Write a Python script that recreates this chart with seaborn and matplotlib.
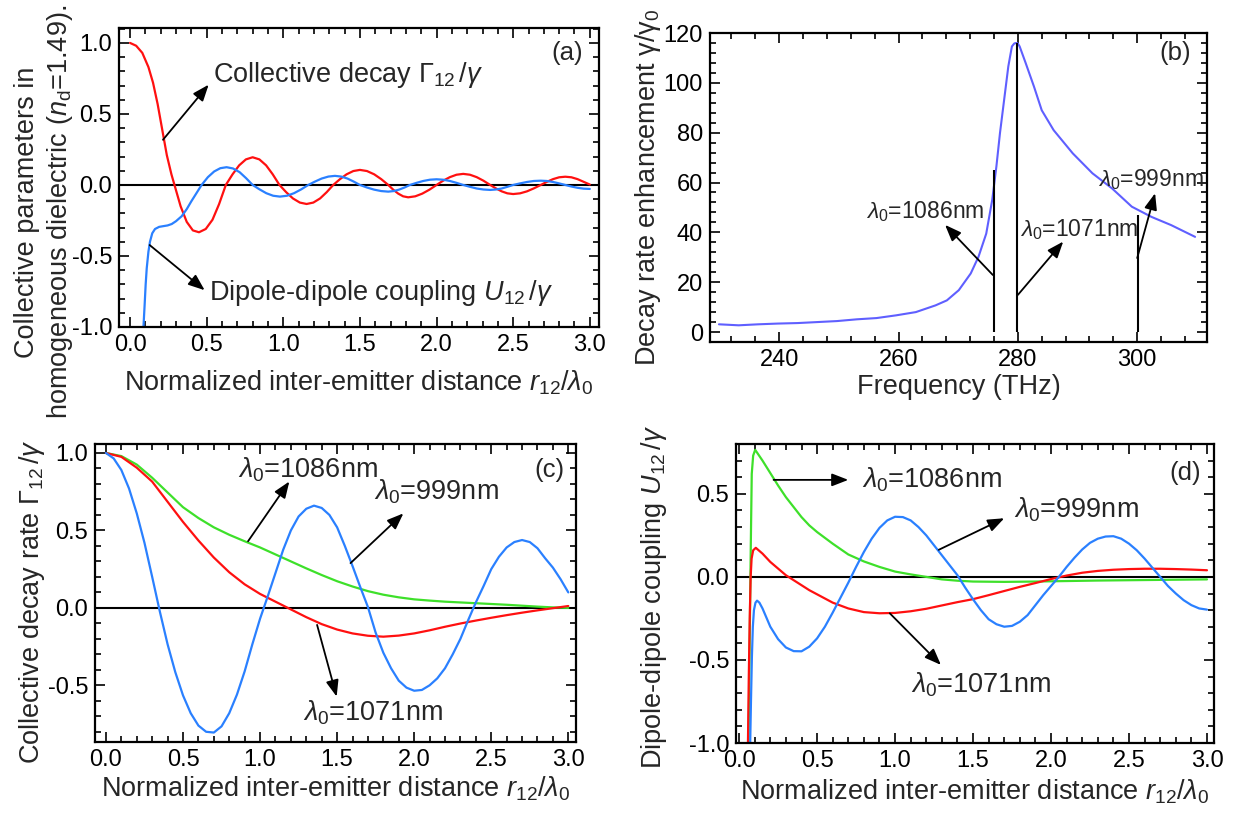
import matplotlib
matplotlib.use("Agg")
import matplotlib.pyplot as plt
from matplotlib.ticker import MultipleLocator, AutoMinorLocator, FormatStrFormatter
import seaborn as sns

sns.set_style("ticks")
plt.rcParams["font.family"] = ["Liberation Sans", "DejaVu Sans"]
plt.rcParams["mathtext.fontset"] = "custom"
plt.rcParams["mathtext.rm"] = "Liberation Sans"
plt.rcParams["mathtext.it"] = "Liberation Sans:italic"
plt.rcParams["mathtext.bf"] = "Liberation Sans:bold"
plt.rcParams["axes.unicode_minus"] = False

# ---- panel (a): homogeneous dielectric ----
a_x_gamma = [0.00, 0.04, 0.08, 0.12, 0.15, 0.18, 0.21, 0.24, 0.27, 0.29,
             0.33, 0.37, 0.41, 0.45, 0.494, 0.538, 0.581, 0.625, 0.669, 0.712,
             0.756, 0.80, 0.844, 0.888, 0.931, 0.975, 1.019, 1.063, 1.108, 1.152,
             1.196, 1.24, 1.283, 1.326, 1.37, 1.413, 1.457, 1.50, 1.546, 1.593,
             1.639, 1.685, 1.717, 1.75, 1.782, 1.815, 1.861, 1.907, 1.954, 2.00,
             2.043, 2.087, 2.13, 2.174, 2.218, 2.262, 2.306, 2.35, 2.387, 2.425,
             2.462, 2.50, 2.545, 2.59, 2.635, 2.68, 2.72, 2.76, 2.80, 2.84,
             2.88, 2.92, 2.96, 3.00]
a_gamma = [1.00, 0.98, 0.93, 0.83, 0.72, 0.57, 0.39, 0.21, 0.075, 0.0,
           -0.15, -0.26, -0.32, -0.333, -0.31, -0.245, -0.135, 0.0, 0.075, 0.138,
           0.180, 0.195, 0.180, 0.138, 0.075, 0.0, -0.051, -0.095, -0.124, -0.134,
           -0.124, -0.095, -0.051, 0.0, 0.041, 0.075, 0.098, 0.106, 0.098, 0.075,
           0.041, 0.0, -0.033, -0.061, -0.080, -0.087, -0.080, -0.061, -0.033, 0.0,
           0.030, 0.055, 0.072, 0.078, 0.072, 0.055, 0.030, 0.0, -0.024, -0.045,
           -0.059, -0.064, -0.059, -0.045, -0.024, 0.0, 0.022, 0.041, 0.054, 0.058,
           0.054, 0.041, 0.022, 0.003]

a_x_u = [0.085, 0.095, 0.102, 0.109, 0.12, 0.13, 0.145, 0.163, 0.19, 0.217,
         0.245, 0.272, 0.30, 0.337, 0.37, 0.40, 0.435, 0.467, 0.508, 0.549,
         0.589, 0.63, 0.672, 0.715, 0.757, 0.80, 0.845, 0.889, 0.934, 0.978,
         1.024, 1.07, 1.117, 1.163, 1.207, 1.25, 1.294, 1.337, 1.378, 1.419,
         1.459, 1.50, 1.546, 1.593, 1.639, 1.685, 1.72, 1.755, 1.791, 1.826,
         1.87, 1.913, 1.957, 2.00, 2.043, 2.087, 2.13, 2.174, 2.218, 2.262,
         2.306, 2.35, 2.387, 2.425, 2.462, 2.50, 2.545, 2.59, 2.635, 2.68,
         2.72, 2.76, 2.80, 2.84, 2.88, 2.92, 2.96, 3.00]
a_u = [-1.05, -0.85, -0.70, -0.586, -0.47, -0.40, -0.34, -0.31, -0.295, -0.29,
       -0.285, -0.275, -0.255, -0.22, -0.17, -0.115, -0.055, 0.0, 0.055, 0.095,
       0.118, 0.125, 0.116, 0.09, 0.048, 0.0, -0.031, -0.058, -0.076, -0.082,
       -0.076, -0.058, -0.031, 0.0, 0.024, 0.045, 0.059, 0.064, 0.059, 0.045,
       0.024, 0.0, -0.018, -0.033, -0.043, -0.047, -0.043, -0.033, -0.018, 0.0,
       0.015, 0.028, 0.037, 0.040, 0.037, 0.028, 0.015, 0.0, -0.013, -0.025,
       -0.032, -0.035, -0.032, -0.025, -0.013, 0.0, 0.011, 0.021, 0.028, 0.030,
       0.028, 0.021, 0.011, 0.0, -0.011, -0.020, -0.026, -0.028]

# ---- panel (b): decay rate enhancement vs frequency ----
b_freq = [229.9, 233.2, 236.5, 239.8, 243.1, 246.4, 249.7, 253.0, 256.3, 259.6,
          262.9, 266.2, 268.1, 270.1, 272.1, 273.4, 274.7, 275.7, 276.4, 277.0,
          277.7, 278.4, 279.0, 279.4, 279.7, 280.0, 280.3, 281.3, 282.7, 284.0,
          286.0, 289.2, 292.5, 295.8, 299.1, 302.4, 305.7, 309.7]
b_enh = [3.1, 2.7, 3.1, 3.4, 3.6, 4.0, 4.4, 5.1, 5.6, 6.7,
         8.0, 10.7, 12.7, 16.8, 23.5, 30.2, 39.5, 53.0, 66.4, 79.8,
         93.2, 106.6, 114.6, 115.8, 116.0, 115.8, 114.6, 108.0, 98.5, 89.0,
         81.0, 71.7, 63.7, 57.6, 50.3, 46.2, 42.9, 38.2]
stem_freq = [276.0, 279.9, 300.1]
stem_top = [65.0, 116.0, 47.0]

# ---- panel (c): collective decay rate ----
c_x = [0.0, 0.1, 0.2, 0.3, 0.4, 0.5, 0.6, 0.7, 0.8, 0.9, 1.0, 1.1, 1.2, 1.3, 1.4, 1.5,
       1.6, 1.7, 1.8, 1.9, 2.0, 2.1, 2.2, 2.3, 2.4, 2.5, 2.6, 2.7, 2.8, 2.9, 3.0]
c_1086 = [1.0, 0.98, 0.925, 0.84, 0.745, 0.65, 0.58, 0.52, 0.472, 0.43, 0.39, 0.345,
          0.30, 0.255, 0.212, 0.172, 0.138, 0.108, 0.085, 0.068, 0.055, 0.047, 0.04,
          0.035, 0.03, 0.025, 0.02, 0.014, 0.008, 0.003, 0.0]
c_1071 = [1.0, 0.975, 0.905, 0.815, 0.685, 0.555, 0.435, 0.325, 0.23, 0.152, 0.09,
          0.04, -0.01, -0.06, -0.105, -0.14, -0.165, -0.18, -0.186, -0.179, -0.165,
          -0.145, -0.122, -0.101, -0.082, -0.064, -0.047, -0.031, -0.016, -0.002, 0.012]
c_x_999 = [0.00, 0.05, 0.10, 0.15, 0.20, 0.25, 0.30, 0.35, 0.40, 0.45, 0.50,
           0.55, 0.60, 0.65, 0.70, 0.75, 0.80, 0.85, 0.90, 0.95, 1.00,
           1.05, 1.10, 1.15, 1.20, 1.25, 1.30, 1.35, 1.40, 1.45, 1.50,
           1.55, 1.60, 1.65, 1.70, 1.75, 1.80, 1.85, 1.90, 1.95, 2.00,
           2.05, 2.10, 2.15, 2.20, 2.25, 2.30, 2.35, 2.40, 2.45, 2.50,
           2.55, 2.60, 2.65, 2.70, 2.75, 2.80, 2.85, 2.90, 2.95, 3.00]
c_999 = [1.000, 0.965, 0.89, 0.77, 0.61, 0.42, 0.20, -0.025, -0.235, -0.415, -0.565,
         -0.68, -0.76, -0.80, -0.805, -0.765, -0.68, -0.56, -0.41, -0.235, -0.07,
         0.075, 0.225, 0.375, 0.50, 0.59, 0.64, 0.66, 0.645, 0.60, 0.52,
         0.40, 0.27, 0.135, 0.005, -0.16, -0.29, -0.39, -0.47, -0.515, -0.535,
         -0.53, -0.50, -0.455, -0.39, -0.30, -0.20, -0.08, 0.035, 0.14, 0.25,
         0.33, 0.39, 0.425, 0.438, 0.425, 0.385, 0.32, 0.26, 0.185, 0.10]

# ---- panel (d): dipole-dipole coupling ----
d_x_1086 = [0.060, 0.066, 0.070, 0.075, 0.081, 0.090, 0.103, 0.15, 0.20, 0.25, 0.30,
            0.35, 0.40, 0.45, 0.50, 0.60, 0.70, 0.80, 0.90, 1.00, 1.10, 1.20, 1.30,
            1.40, 1.50, 1.70, 1.90, 2.10, 2.30, 2.50, 2.70, 3.00]
d_1086 = [-1.05, -0.55, -0.2, 0.2, 0.62, 0.73, 0.765, 0.70, 0.625, 0.55, 0.48,
          0.42, 0.36, 0.31, 0.27, 0.20, 0.135, 0.093, 0.06, 0.032, 0.015, 0.0, -0.015,
          -0.023, -0.028, -0.03, -0.028, -0.025, -0.022, -0.02, -0.018, -0.015]
d_x_1071 = [0.056, 0.062, 0.068, 0.074, 0.080, 0.090, 0.107, 0.15, 0.20, 0.25, 0.30,
            0.35, 0.40, 0.45, 0.50, 0.60, 0.70, 0.80, 0.90, 1.00, 1.10, 1.20, 1.30,
            1.40, 1.50, 1.60, 1.70, 1.80, 1.90, 2.00, 2.10, 2.20, 2.30, 2.40, 2.50,
            2.60, 2.70, 2.80, 2.90, 3.00]
d_1071 = [-1.05, -0.6, -0.25, 0.0, 0.11, 0.16, 0.175, 0.14, 0.09, 0.05, 0.01,
          -0.02, -0.05, -0.08, -0.105, -0.155, -0.19, -0.212, -0.219, -0.217, -0.207,
          -0.192, -0.172, -0.152, -0.134, -0.11, -0.085, -0.06, -0.037, -0.013, 0.008,
          0.025, 0.036, 0.043, 0.047, 0.049, 0.049, 0.047, 0.044, 0.04]
d_x_999 = [0.070, 0.076, 0.082, 0.088, 0.095, 0.105, 0.115, 0.13, 0.15,
           0.20, 0.25, 0.30, 0.35, 0.40, 0.45, 0.50, 0.55, 0.60, 0.65,
           0.70, 0.75, 0.80, 0.85, 0.90, 0.95, 1.00, 1.05, 1.10, 1.15,
           1.20, 1.25, 1.30, 1.35, 1.40, 1.45, 1.50, 1.55, 1.60, 1.65,
           1.70, 1.75, 1.80, 1.85, 1.90, 1.95, 2.00, 2.05, 2.10, 2.15,
           2.20, 2.25, 2.30, 2.35, 2.40, 2.45, 2.50, 2.55, 2.60, 2.65,
           2.70, 2.75, 2.80, 2.85, 2.90, 2.95, 3.00]
d_999 = [-1.05, -0.75, -0.48, -0.3, -0.2, -0.155, -0.143, -0.155, -0.19,
         -0.3, -0.375, -0.425, -0.447, -0.448, -0.42, -0.37, -0.30, -0.215, -0.125,
         -0.035, 0.06, 0.15, 0.23, 0.295, 0.34, 0.362, 0.36, 0.34, 0.30,
         0.25, 0.19, 0.13, 0.07, 0.01, -0.065, -0.135, -0.20, -0.255, -0.285,
         -0.30, -0.295, -0.27, -0.23, -0.17, -0.11, -0.055, 0.0, 0.06, 0.115,
         0.165, 0.205, 0.23, 0.243, 0.245, 0.23, 0.20, 0.16, 0.11, 0.055,
         0.0, -0.055, -0.10, -0.14, -0.17, -0.19, -0.197]

RED = "#ff1010"
BLUE = "#2a80ff"
GREEN = "#3ee02a"
VIOLET = "#5f5fff"
XLAB = r"Normalized inter-emitter distance $r_{12}/\lambda_0$"
LAB = 19.5   # axis titles
ANN = 19.5   # curve labels

W, H = 1241, 818
fig = plt.figure(figsize=(W / 100, H / 100), dpi=100)


def add_ax(left, right, top, bottom):
    return fig.add_axes([left / W, 1 - bottom / H, (right - left) / W, (bottom - top) / H])


def style(ax, xmaj, ymaj, fx, fy):
    ax.xaxis.set_major_locator(MultipleLocator(xmaj))
    ax.yaxis.set_major_locator(MultipleLocator(ymaj))
    ax.xaxis.set_minor_locator(AutoMinorLocator(5))
    ax.yaxis.set_minor_locator(AutoMinorLocator(5))
    ax.xaxis.set_major_formatter(FormatStrFormatter(fx))
    ax.yaxis.set_major_formatter(FormatStrFormatter(fy))
    ax.tick_params(which="both", direction="in", top=True, right=True,
                   width=1.2, colors="black", labelsize=17, pad=5)
    ax.tick_params(which="major", length=7)
    ax.tick_params(which="minor", length=4)
    for s in ax.spines.values():
        s.set_linewidth(1.6)
        s.set_color("black")


def arrow(ax, tail, head):
    ax.annotate("", xy=head, xytext=tail,
                arrowprops=dict(arrowstyle="-|>,head_length=0.9,head_width=0.35",
                                color="black", lw=1.3, shrinkA=0, shrinkB=0,
                                mutation_scale=11))


def curve(ax, x, y, color, lw=1.6):
    sns.lineplot(x=x, y=y, ax=ax, color=color, linewidth=lw, sort=False, estimator=None)


# (a)
ax = add_ax(119, 599, 28, 327)
ax.axhline(0, color="black", lw=1.5, zorder=1)
curve(ax, a_x_gamma, a_gamma, RED)
curve(ax, a_x_u, a_u, BLUE)
ax.set_xlim(-0.072, 3.06)
ax.set_ylim(-1.0, 1.105)
style(ax, 0.5, 0.5, "%.1f", "%.1f")
ax.set_xlabel(XLAB, fontsize=LAB)
ax.set_ylabel("Collective parameters in\nhomogeneous dielectric ($n_\\mathrm{d}$=1.49).", fontsize=LAB)
ax.yaxis.set_label_coords(-0.092, 0.385)
ax.xaxis.set_label_coords(0.5, -0.14)
ax.text(0.539, 0.776, r"Collective decay $\mathit{\Gamma}_{12}\,/\gamma$", fontsize=ANN, va="center")
ax.text(0.513, -0.764, r"Dipole-dipole coupling $U_{12}\,/\gamma$", fontsize=ANN, va="center")
arrow(ax, (0.215, 0.318), (0.513, 0.706))
arrow(ax, (0.128, -0.423), (0.487, -0.741))
ax.text(2.85, 0.93, "(a)", fontsize=18.5, ha="center", va="center")

# (b)
ax = add_ax(710, 1207, 33, 342)
curve(ax, b_freq, b_enh, VIOLET, lw=1.5)
ax.vlines(stem_freq, 0, stem_top, color="black", lw=1.5)
ax.set_xlim(228.4, 311.7)
ax.set_ylim(-4, 120)
style(ax, 20, 20, "%d", "%d")
ax.set_xlabel("Frequency (THz)", fontsize=LAB)
ax.set_ylabel(r"Decay rate enhancement $\mathrm{\gamma}/\mathrm{\gamma}_0$", fontsize=LAB)
ax.yaxis.set_label_coords(-0.095, 0.5)
ax.xaxis.set_label_coords(0.5, -0.105)
ax.text(254.6, 48.2, r"$\lambda_0$=1086nm", fontsize=16.5, va="center")
ax.text(280.3, 41.0, r"$\lambda_0$=1071nm", fontsize=16.5, va="center")
ax.text(293.4, 61.0, r"$\lambda_0$=999nm", fontsize=16.5, va="center")
arrow(ax, (275.8, 22.9), (267.8, 43.0))
arrow(ax, (280.0, 14.9), (287.6, 36.3))
arrow(ax, (300.0, 29.7), (303.0, 55.7))
ax.text(306.3, 112, "(b)", fontsize=18.5, ha="center", va="center")

# (c)
ax = add_ax(95, 576, 444, 742)
ax.axhline(0, color="black", lw=1.5, zorder=1)
curve(ax, c_x, c_1086, GREEN)
curve(ax, c_x, c_1071, RED)
curve(ax, c_x_999, c_999, BLUE)
ax.set_xlim(-0.071, 3.05)
ax.set_ylim(-0.866, 1.058)
style(ax, 0.5, 0.5, "%.1f", "%.1f")
ax.set_xlabel(XLAB, fontsize=LAB)
ax.set_ylabel(r"Collective decay rate $\mathit{\Gamma}_{12}\,/\gamma$", fontsize=LAB)
ax.yaxis.set_label_coords(-0.10, 0.47)
ax.xaxis.set_label_coords(0.5, -0.11)
ax.text(0.857, 0.89, r"$\lambda_0$=1086nm", fontsize=ANN, va="center")
ax.text(1.74, 0.75, r"$\lambda_0$=999nm", fontsize=ANN, va="center")
ax.text(1.28, -0.68, r"$\lambda_0$=1071nm", fontsize=ANN, va="center")
arrow(ax, (0.922, 0.43), (1.19, 0.816))
arrow(ax, (1.587, 0.289), (1.93, 0.61))
arrow(ax, (1.37, -0.11), (1.497, -0.573))
ax.text(2.88, 0.89, "(c)", fontsize=18.5, ha="center", va="center")

# (d)
ax = add_ax(736, 1214, 444, 743)
ax.axhline(0, color="black", lw=1.5, zorder=1)
curve(ax, d_x_1086, d_1086, GREEN)
curve(ax, d_x_1071, d_1071, RED)
curve(ax, d_x_999, d_999, BLUE)
ax.set_xlim(-0.02, 3.045)
ax.set_ylim(-1.0, 0.80)
style(ax, 0.5, 0.5, "%.1f", "%.1f")
ax.set_xlabel(XLAB, fontsize=LAB)
ax.set_ylabel(r"Dipole-dipole coupling $U_{12}\,/\gamma$", fontsize=LAB)
ax.yaxis.set_label_coords(-0.14, 0.49)
ax.xaxis.set_label_coords(0.5, -0.115)
ax.text(0.79, 0.584, r"$\lambda_0$=1086nm", fontsize=ANN, va="center")
ax.text(1.76, 0.404, r"$\lambda_0$=999nm", fontsize=ANN, va="center")
ax.text(1.10, -0.65, r"$\lambda_0$=1071nm", fontsize=ANN, va="center")
arrow(ax, (0.221, 0.584), (0.70, 0.584))
arrow(ax, (1.28, 0.163), (1.70, 0.353))
arrow(ax, (0.966, -0.219), (1.294, -0.53))
ax.text(2.86, 0.626, "(d)", fontsize=18.5, ha="center", va="center")

fig.savefig("out.png", dpi=100)
